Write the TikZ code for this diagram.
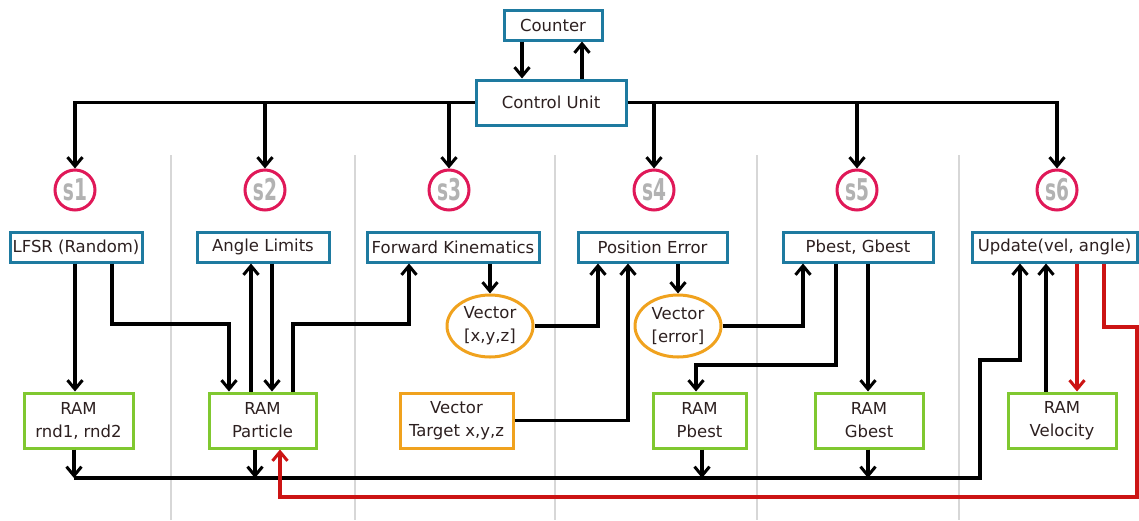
\documentclass[tikz,border=0pt]{standalone}
\usepackage{fontspec}
\setmainfont{DejaVu Sans}
\newfontfamily\circfont{DejaVu Sans}[FakeStretch=0.62]
\usetikzlibrary{arrows.meta,shapes.geometric,calc}
\definecolor{boxblue}{RGB}{30,122,160}
\definecolor{ramgreen}{RGB}{128,200,48}
\definecolor{vecorange}{RGB}{240,162,30}
\definecolor{stagepink}{RGB}{224,24,88}
\definecolor{redline}{RGB}{204,20,20}
\definecolor{sepgray}{RGB}{215,215,215}
\definecolor{txt}{RGB}{45,32,32}
\tikzset{
  every node/.style={font=\fontsize{16.5}{23}\selectfont, text=txt, inner sep=0pt},
  unitbox/.style={draw=boxblue, line width=3pt, fill=white, minimum height=30, rectangle},
  rambox/.style={draw=ramgreen, line width=3pt, fill=white, minimum height=55, align=center, rectangle},
  vecbox/.style={draw=vecorange, line width=3pt, fill=white, minimum height=55, align=center, rectangle},
  vecell/.style={draw=vecorange, line width=3pt, fill=white, ellipse, minimum width=86, minimum height=62, align=center},
  stage/.style={draw=stagepink, line width=3pt, circle, minimum size=40, fill=white,
    font=\circfont\bfseries\fontsize{30}{30}\selectfont, text=gray!60},
  wire/.style={line width=3.2pt, black},
  redwire/.style={line width=3.2pt, redline},
  tip/.style={-{Straight Barb[length=9pt,width=15pt,line width=3pt]}},
  separator/.style={line width=2.6pt, sepgray}
}
\begin{document}
\begin{tikzpicture}[x=1pt,y=-1pt]
\useasboundingbox (0,0) rectangle (1139,520);

% column separators
\foreach \sx in {171,355,555,757,959}
  \draw[separator] (\sx,155) -- (\sx,520);

% control part
\node[unitbox, minimum width=98] (counter) at (553,25) {Counter};
\node[unitbox, minimum width=150, minimum height=45] (cu) at (551,102.5) {Control Unit};

% stage markers
\node[stage] (s1) at (75,190) {s1};
\node[stage] (s2) at (265,190) {s2};
\node[stage] (s3) at (449,190) {s3};
\node[stage] (s4) at (654,190) {s4};
\node[stage] (s5) at (857,190) {s5};
\node[stage] (s6) at (1057,190) {s6};

% processing units
\node[unitbox, minimum width=132] (lfsr) at (76,247) {LFSR (Random)};
\node[unitbox, minimum width=132] (angle) at (263,247) {Angle Limits};
\node[unitbox, minimum width=172] (fk) at (453,247) {Forward Kinematics};
\node[unitbox, minimum width=149] (pe) at (652.5,247) {Position Error};
\node[unitbox, minimum width=150] (pg) at (858,247) {Pbest, Gbest};
\node[unitbox, minimum width=165] (upd) at (1054.5,247) {Update(vel, angle)};

% intermediate vectors
\node[vecell] (vxyz) at (490,326) {Vector\\{}[x,y,z]};
\node[vecell] (verr) at (678,326) {Vector\\{}[error]};

% memories
\node[rambox, minimum width=109] (ramr) at (78.5,420.5) {RAM\\rnd1, rnd2};
\node[rambox, minimum width=107] (ramp) at (262.5,420.5) {RAM\\Particle};
\node[vecbox, minimum width=113] (tgt) at (456.5,420.5) {Vector\\Target x,y,z};
\node[rambox, minimum width=93] (rampb) at (699.5,420.5) {RAM\\Pbest};
\node[rambox, minimum width=108] (ramg) at (869,420.5) {RAM\\Gbest};
\node[rambox, minimum width=108] (ramv) at (1062,420.5) {RAM\\Velocity};

% counter handshake
\draw[wire, tip] ($(counter.south)+(-31,0)$) -- ($(cu.north)+(-29,0)$);
\draw[wire, tip] ($(cu.north)+(31,0)$) -- ($(counter.south)+(29,0)$);

% control bus to the stages
\draw[wire, tip] (cu.west) -| (s1.north);
\draw[wire, tip] (s2 |- cu.west) -- (s2.north);
\draw[wire, tip] (s3 |- cu.west) -- (s3.north);
\draw[wire, tip] (cu.east) -| (s6.north);
\draw[wire, tip] (s4 |- cu.east) -- (s4.north);
\draw[wire, tip] (s5 |- cu.east) -- (s5.north);

% stage 1
\draw[wire, tip] ($(lfsr.south)+(-1,0)$) -- ($(ramr.north)+(-3.5,0)$);
\draw[wire, tip] ($(lfsr.south)+(36,0)$) |- (229,324) -- ($(ramp.north)+(-33.5,0)$);

% stage 2
\draw[wire, tip] ($(ramp.north)+(-11.5,0)$) -- ($(angle.south)+(-12,0)$);
\draw[wire, tip] ($(angle.south)+(9,0)$) -- ($(ramp.north)+(9.5,0)$);
\draw[wire, tip] ($(ramp.north)+(30.5,0)$) |- (409,324) -- ($(fk.south)+(-44,0)$);

% stage 3
\draw[wire, tip] ($(fk.south)+(37,0)$) -- (vxyz.north);
\draw[wire, tip] (vxyz.east) -| ($(pe.south)+(-54.5,0)$);
\draw[wire, tip] (tgt.east) -| ($(pe.south)+(-24.5,0)$);

% stage 4
\draw[wire, tip] ($(pe.south)+(25.5,0)$) -- (verr.north);
\draw[wire, tip] (verr.east) -| ($(pg.south)+(-55,0)$);

% stage 5
\draw[wire, tip] ($(pg.south)+(-22,0)$) |- (696,365) -- ($(rampb.north)+(-3.5,0)$);
\draw[wire, tip] ($(pg.south)+(10,0)$) -- ($(ramg.north)+(-1,0)$);

% memories back onto the result bus
\coordinate (busL) at (74,478);
\coordinate (busR) at (980,478);
\draw[wire, tip] (busL) -- (busR) |- (1020,360) -- ($(upd.south)+(-34.5,0)$);
\draw[wire, tip] ($(ramr.south)+(-4.5,0)$) -- (74,478);
\draw[wire, tip] ($(ramp.south)+(-7.5,0)$) -- (255,478);
\draw[wire, tip] ($(rampb.south)+(2.5,0)$) -- (702,478);
\draw[wire, tip] ($(ramg.south)+(-1,0)$) -- (868,478);

% stage 6
\draw[wire, tip] ($(ramv.north)+(-16,0)$) -- ($(upd.south)+(-8.5,0)$);
\draw[redwire, tip] ($(upd.south)+(22.5,0)$) -- ($(ramv.north)+(15,0)$);
\draw[redwire, tip] ($(upd.south)+(49.5,0)$) |- (1137,327) |- (280,497) -- ($(ramp.south)+(17.5,0)$);
\end{tikzpicture}
\end{document}
